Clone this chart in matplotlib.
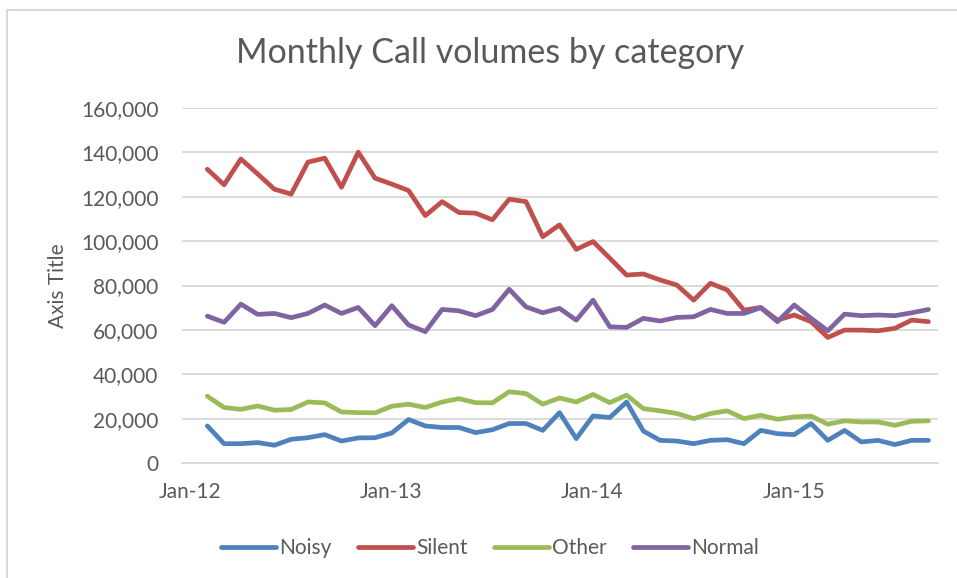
import matplotlib
matplotlib.use("Agg")
import matplotlib.pyplot as plt
from matplotlib.patches import Rectangle
from matplotlib.ticker import FuncFormatter
import numpy as np
import pandas as pd

plt.rcParams['font.family'] = ['Lato', 'DejaVu Sans']

# monthly call volumes, Jan-12 .. Aug-15
months = pd.date_range('2012-01-01', periods=44, freq='MS')

noisy = [16700, 8700, 8700, 9200, 8000, 10700, 11400, 12800, 9900, 11300,
         11400, 13500, 19600, 16700, 16000, 16000, 13700, 15000, 17800, 17800,
         14700, 22700, 11000, 21200, 20500, 27500, 14400, 10200, 9900, 8700,
         10200, 10500, 8700, 14700, 13200, 12800, 17800, 10200, 14700, 9500,
         10200, 8300, 10200, 10200]

silent = [132400, 125400, 137000, 130300, 123400, 121200, 135600, 137400, 124300, 140100,
          128400, 125700, 122800, 111500, 117800, 112900, 112600, 109600, 118900, 117800,
          102000, 107300, 96300, 99800, 92300, 84700, 85200, 82500, 80200, 73400,
          81000, 78000, 68900, 70100, 64400, 66700, 63700, 56600, 59900, 59900,
          59600, 60700, 64400, 63700]

other = [30100, 25000, 24200, 25700, 23800, 24100, 27500, 27100, 23000, 22700,
         22600, 25600, 26500, 25000, 27500, 29000, 27200, 27100, 32100, 31300,
         26500, 29300, 27500, 30900, 27200, 30600, 24500, 23500, 22300, 20000,
         22300, 23500, 20000, 21500, 19700, 20800, 21100, 17500, 19000, 18500,
         18500, 17000, 18800, 19000]

normal = [66200, 63400, 71600, 67000, 67400, 65500, 67400, 71200, 67400, 70100,
          61900, 70900, 62200, 59200, 69200, 68600, 66400, 69200, 78300, 70400,
          67700, 69700, 64400, 73400, 61400, 61100, 65200, 64000, 65600, 65900,
          69200, 67400, 67400, 70000, 63700, 71200, 65200, 59600, 67100, 66400,
          66700, 66400, 67700, 69200]

series_names = ['Noisy', 'Silent', 'Other', 'Normal']
series_colors = ['#4F81BD', '#C0504D', '#9BBB59', '#8064A2']
text_color = '#595959'
grid_color = '#D9D9D9'

fig = plt.figure(figsize=(9.57, 5.78), dpi=100)
ax = fig.add_axes([182/957, 1 - 463/578, (938 - 182)/957, (463 - 108)/578])

x = np.arange(len(months))
for vals, name, col in zip([noisy, silent, other, normal], series_names, series_colors):
    ax.plot(x, vals, color=col, lw=3.4, label=name, solid_capstyle='round', solid_joinstyle='round')

ax.set_ylim(0, 160000)
ax.set_yticks(np.arange(0, 160001, 20000))
ax.yaxis.set_major_formatter(FuncFormatter(lambda v, p: f'{int(v):,}'))
ax.set_xlim(-1.51, 43.57)

# Excel's date axis puts the year labels about a month left of the January points
jan_idx = [i for i, m in enumerate(months) if m.month == 1]
ax.set_xticks([i - 1.03 for i in jan_idx])
ax.set_xticklabels([months[i].strftime('%b-%y') for i in jan_idx])

ax.grid(axis='y', color=grid_color, lw=1.3)
ax.set_axisbelow(True)
for s in ['top', 'right', 'left']:
    ax.spines[s].set_visible(False)
ax.spines['bottom'].set_color(grid_color)
ax.spines['bottom'].set_linewidth(1.3)
ax.tick_params(length=0, labelsize=15, colors=text_color)
ax.tick_params(axis='y', pad=17)
ax.tick_params(axis='x', pad=14)

fig.text(58/957, 1 - 286/578, 'Axis Title', rotation=90, ha='center', va='center',
         fontsize=15, color=text_color)
fig.text(490/957, 1 - 53/578, 'Monthly Call volumes by category', ha='center', va='center',
         fontsize=24.5, color=text_color)

fig.legend(loc='center', bbox_to_anchor=(490/957, 1 - 548/578), ncol=4, frameon=False,
           fontsize=15, handlelength=2.65, handletextpad=0.15, columnspacing=1.25,
           labelcolor=text_color)

fig.patches.append(Rectangle((7/957, -0.1), 1.2, 1.1 - 10/578, transform=fig.transFigure,
                             fill=False, edgecolor=grid_color, lw=1.5))

fig.savefig('out.png', dpi=100, facecolor='white')
